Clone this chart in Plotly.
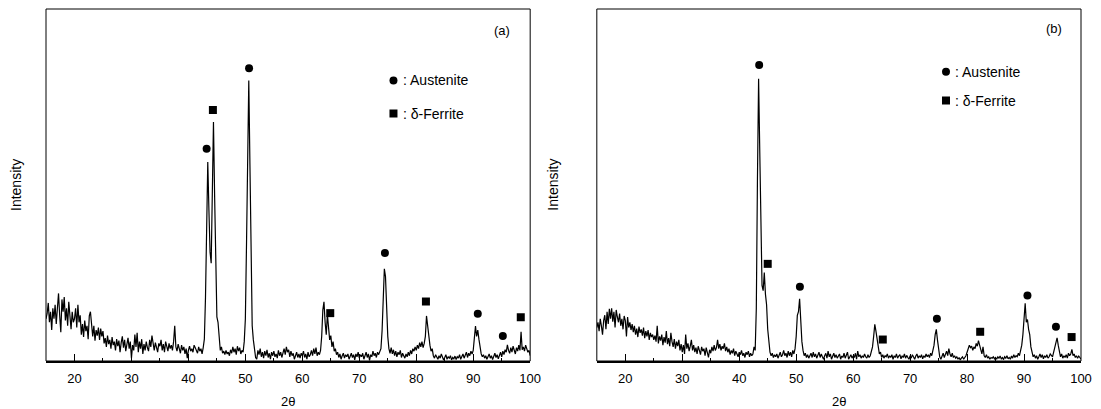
import numpy as np
import plotly.graph_objects as go
from plotly.subplots import make_subplots

# 2-theta grid (degrees), step 0.2 from 15 to 100
two_theta = np.round(np.arange(15.0, 100.0001, 0.2), 1)

# Panel (a) intensity (a.u.), rows of 5 degrees
int_a = [
    120,135,165,110,140,88,150,120,160,105,150,192,130,82,175,140,182,115,150,100,168,125,90,140,110,
    120,150,95,160,110,130,75,105,68,115,85,100,62,128,140,90,70,100,58,88,72,95,60,92,70,
    85,50,65,40,72,48,60,35,68,45,55,30,62,42,58,25,52,70,38,60,28,48,66,35,55,
    8,45,30,75,40,80,25,55,35,62,20,48,30,55,38,28,60,40,72,45,30,52,35,25,50,
    42,60,30,48,25,55,38,28,50,35,45,30,55,100,40,28,48,35,22,45,30,40,20,35,8,
    30,42,28,35,25,45,38,30,22,40,28,35,20,38,62,180,420,565,430,310,278,480,679,470,250,
    125,110,55,30,40,22,28,18,30,20,25,15,32,22,40,25,35,18,42,28,38,20,30,25,55,
    120,330,650,797,560,260,100,60,30,10,5,30,18,35,12,25,8,28,15,32,10,22,5,25,15,
    28,12,20,8,30,15,25,10,22,35,18,40,25,32,12,28,15,22,5,18,25,10,20,8,22,
    15,28,10,20,5,25,12,18,30,15,35,20,38,15,25,18,30,70,145,168,110,75,132,90,60,
    72,40,55,28,35,18,25,10,20,5,15,22,8,18,12,20,5,15,22,10,18,3,20,12,25,
    8,18,12,22,5,15,25,10,20,2,18,12,28,15,22,10,25,18,30,35,85,195,262,240,150,
    70,35,22,38,20,32,15,28,12,25,18,30,10,22,15,8,20,12,25,15,30,20,35,28,40,
    30,45,35,52,40,55,38,50,70,128,100,60,45,28,35,15,8,18,10,5,15,8,20,12,3,
    10,18,5,12,8,15,3,10,6,14,4,12,8,18,5,12,20,8,15,25,10,22,15,28,20,
    30,65,99,70,88,62,35,20,12,18,8,15,5,12,20,8,15,4,12,22,10,18,6,15,25,
    12,28,18,32,25,46,30,22,38,25,42,30,20,38,28,45,30,83,32,40,28,45,35,25,30,
    15,
]

# Panel (b) intensity (a.u.)
int_b = [
    95,110,85,120,100,75,115,130,90,140,105,148,120,150,112,140,95,145,125,110,135,100,120,90,128,
    115,70,125,95,110,88,105,82,100,75,92,68,98,80,90,72,95,65,85,70,88,60,80,68,75,
    60,72,55,100,50,70,58,75,45,68,52,85,48,65,42,80,55,40,62,35,55,42,60,30,48,
    25,45,20,75,35,50,28,42,60,30,45,25,38,20,42,30,18,40,28,35,15,38,25,10,32,
    22,40,28,45,30,38,60,35,48,30,42,35,50,28,40,25,35,18,30,22,35,15,28,20,12,
    25,18,30,15,22,10,25,18,28,12,22,15,20,40,30,150,520,802,600,380,215,200,251,190,160,
    90,45,25,15,22,10,18,12,20,8,15,25,12,18,30,15,22,10,28,15,25,12,30,20,35,
    70,130,140,177,110,55,30,15,22,10,18,8,15,22,10,25,12,20,8,18,25,10,20,12,5,
    15,22,8,28,12,20,5,15,22,10,18,8,15,20,5,14,10,22,8,15,25,5,12,18,8,
    15,10,22,5,28,12,18,8,15,10,20,12,8,18,10,15,25,40,70,104,85,60,30,20,25,
    10,18,8,15,12,20,8,15,10,18,5,15,10,20,8,14,18,6,15,10,20,8,16,10,5,
    15,8,18,10,5,14,20,8,15,10,18,6,15,10,20,12,18,10,22,15,30,45,75,90,60,
    30,12,5,15,22,10,20,28,15,35,20,12,22,10,15,8,12,5,10,3,8,12,5,10,15,
    25,35,45,38,42,30,40,35,50,42,58,45,30,20,40,15,10,18,8,12,5,10,8,12,6,
    10,5,12,8,14,6,10,4,12,8,15,6,10,5,14,8,18,10,15,12,22,15,30,45,75,
    120,164,110,118,90,75,40,22,12,18,8,15,5,12,20,10,18,6,15,10,18,8,12,20,15,
    12,25,40,50,66,45,30,12,20,8,15,10,18,8,22,15,20,33,15,20,10,15,8,14,10,
    5,
]

# Phase markers: (2-theta, intensity)
aus_a_x = [43.2, 50.65, 74.5, 90.8, 95.2]
aus_a_y = [603, 832, 307, 134, 71]
fer_a_x = [44.3, 64.9, 81.7, 98.35]
fer_a_y = [713, 136, 169, 124]

aus_b_x = [43.5, 50.65, 74.7, 90.6, 95.6]
aus_b_y = [841, 211, 120, 186, 97]
fer_b_x = [45.0, 65.2, 82.3, 98.35]
fer_b_y = [276, 61, 83, 68]

# Legend entries (position in data units per panel)
leg_a = {"x": 76.0, "aus_y": 797, "fer_y": 703, "tx": 77.3}
leg_b = {"x": 76.3, "aus_y": 822, "fer_y": 740, "tx": 77.6}

x_ticks = [20, 30, 40, 50, 60, 70, 80, 90, 100]
FONT = "Arial, Liberation Sans, sans-serif"

fig = make_subplots(rows=1, cols=2, horizontal_spacing=0.0644)

panels = [
    (1, int_a, aus_a_x, aus_a_y, fer_a_x, fer_a_y, leg_a, "(a)", 95.05, 940),
    (2, int_b, aus_b_x, aus_b_y, fer_b_x, fer_b_y, leg_b, "(b)", 95.2, 945),
]

for col, yy, ax, ay, fx, fy, leg, lab, labx, laby in panels:
    fig.add_trace(go.Scatter(x=two_theta, y=yy, mode="lines",
                             line=dict(color="black", width=1.2), showlegend=False,
                             hoverinfo="skip"), row=1, col=col)
    fig.add_trace(go.Scatter(x=ax, y=ay, mode="markers",
                             marker=dict(symbol="circle", size=8, color="black"),
                             showlegend=False), row=1, col=col)
    fig.add_trace(go.Scatter(x=fx, y=fy, mode="markers",
                             marker=dict(symbol="square", size=8, color="black"),
                             showlegend=False), row=1, col=col)
    fig.add_trace(go.Scatter(x=[leg["x"]], y=[leg["aus_y"]], mode="markers",
                             marker=dict(symbol="circle", size=8, color="black"),
                             showlegend=False), row=1, col=col)
    fig.add_trace(go.Scatter(x=[leg["x"]], y=[leg["fer_y"]], mode="markers",
                             marker=dict(symbol="square", size=8, color="black"),
                             showlegend=False), row=1, col=col)
    xr = "x" if col == 1 else "x2"
    yr = "y" if col == 1 else "y2"
    fig.add_annotation(x=leg["tx"], y=leg["aus_y"], xref=xr, yref=yr, text=": Austenite",
                       showarrow=False, xanchor="left", yanchor="middle",
                       font=dict(family=FONT, size=14, color="black"))
    fig.add_annotation(x=leg["tx"], y=leg["fer_y"], xref=xr, yref=yr, text=": δ-Ferrite",
                       showarrow=False, xanchor="left", yanchor="middle",
                       font=dict(family=FONT, size=14, color="black"))
    fig.add_annotation(x=labx, y=laby, xref=xr, yref=yr, text=lab,
                       showarrow=False, xanchor="center", yanchor="middle",
                       font=dict(family=FONT, size=13, color="black"))
    # frame
    fig.add_shape(type="rect", xref=f"{xr} domain", yref=f"{yr} domain",
                  x0=0, x1=1, y0=0, y1=1, line=dict(color="black", width=1))
    # axis titles
    fig.add_annotation(x=0.5, y=-0.114, xref=f"{xr} domain", yref="paper", text="2θ",
                       showarrow=False, xanchor="center", yanchor="middle",
                       font=dict(family=FONT, size=13, color="black"))
    fig.add_annotation(x=-0.029 if col == 1 else 0.4895, y=0.5, xref="paper", yref="paper",
                       text="Intensity", textangle=-90, showarrow=False,
                       xanchor="center", yanchor="middle",
                       font=dict(family=FONT, size=14, color="black"))

fig.update_xaxes(range=[15, 100], tickvals=x_ticks, ticks="inside", ticklen=7,
                 tickwidth=1, tickcolor="black", showline=True, linewidth=2,
                 linecolor="black", showgrid=False, zeroline=False,
                 ticklabelstandoff=4,
                 minor=dict(dtick=5, tick0=15, ticks="inside", ticklen=3,
                            tickcolor="black", tickwidth=1, showgrid=False),
                 tickfont=dict(family=FONT, size=13, color="black"))
fig.update_yaxes(range=[0, 1000], showticklabels=False, ticks="", showgrid=False,
                 zeroline=False, showline=False)

fig.update_layout(width=1101, height=409,
                  margin=dict(l=46, r=14, t=9, b=48),
                  plot_bgcolor="white", paper_bgcolor="white",
                  font=dict(family=FONT, color="black"))

fig.write_html("out.html", config={"displayModeBar": False},
               post_script="document.body.style.margin='0';document.body.style.padding='0';")
